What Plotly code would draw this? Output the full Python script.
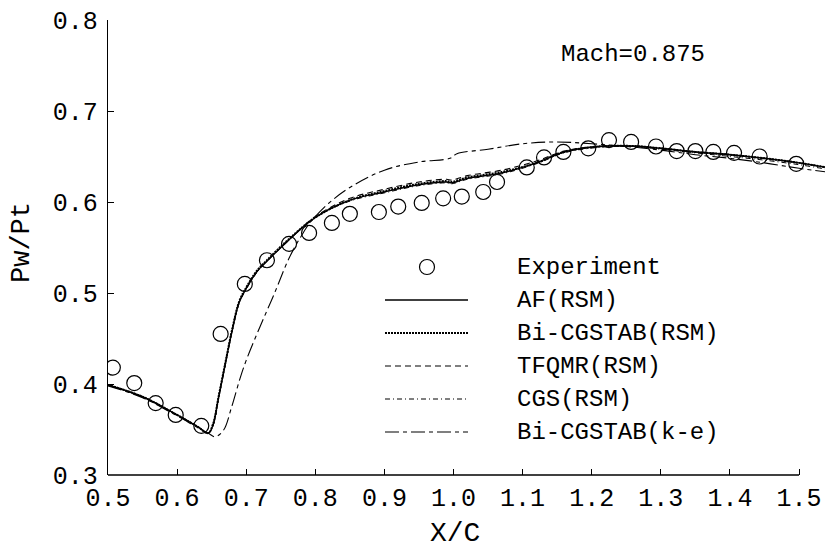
import plotly.graph_objects as go

# ---- Experimental wall pressure ----
exp_x = [0.507, 0.538, 0.569, 0.598, 0.635, 0.663, 0.698, 0.730, 0.762, 0.791,
         0.824, 0.850, 0.892, 0.920, 0.954, 0.985, 1.012, 1.043, 1.063, 1.106,
         1.131, 1.159, 1.195, 1.225, 1.257, 1.293, 1.323, 1.350, 1.376, 1.406,
         1.443, 1.496]
exp_y = [0.418, 0.401, 0.379, 0.366, 0.354, 0.455, 0.510, 0.536, 0.554, 0.566,
         0.577, 0.587, 0.589, 0.595, 0.599, 0.604, 0.606, 0.611, 0.622, 0.638,
         0.649, 0.655, 0.659, 0.668, 0.666, 0.661, 0.656, 0.656, 0.655, 0.654,
         0.650, 0.642]

# ---- RSM computations (AF, Bi-CGSTAB, TFQMR, CGS) ----
rsm_x = [0.50, 0.55, 0.60, 0.63, 0.645, 0.652, 0.660, 0.670, 0.680, 0.690,
         0.700, 0.715, 0.730, 0.760, 0.800, 0.850, 0.900, 0.950, 0.990, 0.997,
         1.020, 1.070, 1.120, 1.160, 1.210, 1.260, 1.300, 1.350, 1.400, 1.450,
         1.500, 1.540]
af_y = [0.399, 0.386, 0.366, 0.353, 0.346, 0.355, 0.385, 0.423, 0.460, 0.490,
        0.505, 0.523, 0.535, 0.557, 0.583, 0.602, 0.611, 0.619, 0.622, 0.621,
        0.626, 0.632, 0.643, 0.655, 0.661, 0.6615, 0.659, 0.655, 0.652, 0.648,
        0.643, 0.638]
bicg_rsm_y = [0.399, 0.386, 0.366, 0.353, 0.346, 0.356, 0.386, 0.424, 0.461, 0.491,
              0.506, 0.524, 0.536, 0.558, 0.583, 0.602, 0.612, 0.620, 0.623, 0.622,
              0.627, 0.633, 0.643, 0.655, 0.661, 0.6615, 0.659, 0.655, 0.652, 0.648,
              0.643, 0.638]
tfqmr_y = [0.399, 0.386, 0.366, 0.353, 0.346, 0.355, 0.385, 0.423, 0.460, 0.490,
           0.505, 0.523, 0.535, 0.557, 0.584, 0.604, 0.614, 0.622, 0.625, 0.624,
           0.629, 0.635, 0.645, 0.656, 0.661, 0.661, 0.659, 0.655, 0.652, 0.648,
           0.643, 0.638]
cgs_y = [0.399, 0.386, 0.366, 0.353, 0.346, 0.354, 0.384, 0.422, 0.459, 0.489,
         0.504, 0.522, 0.535, 0.557, 0.583, 0.601, 0.610, 0.618, 0.621, 0.620,
         0.625, 0.631, 0.642, 0.654, 0.660, 0.661, 0.658, 0.654, 0.650, 0.646,
         0.641, 0.636]

# ---- k-e computation (Bi-CGSTAB) ----
ke_x = [0.50, 0.55, 0.60, 0.63, 0.645, 0.655, 0.667, 0.679, 0.691, 0.700,
        0.720, 0.740, 0.760, 0.770, 0.780, 0.790, 0.800, 0.820, 0.850, 0.900,
        0.950, 0.995, 1.005, 1.050, 1.100, 1.150, 1.200, 1.250, 1.300, 1.350,
        1.400, 1.450, 1.500, 1.540]
ke_y = [0.398, 0.385, 0.365, 0.352, 0.346, 0.342, 0.349, 0.375, 0.406, 0.426,
        0.463, 0.498, 0.535, 0.550, 0.563, 0.575, 0.584, 0.599, 0.616, 0.635,
        0.644, 0.648, 0.653, 0.658, 0.664, 0.666, 0.664, 0.661, 0.657, 0.652,
        0.648, 0.643, 0.637, 0.633]

x_ticks = [0.5, 0.6, 0.7, 0.8, 0.9, 1.0, 1.1, 1.2, 1.3, 1.4, 1.5]
x_ticktext = ["0.5", "0.6", "0.7", "0.8", "0.9", "1.0", "1.1", "1.2", "1.3", "1.4", "1.5"]
y_ticks = [0.3, 0.4, 0.5, 0.6, 0.7, 0.8]
y_ticktext = ["0.3", "0.4", "0.5", "0.6", "0.7", "0.8"]

legend_labels = ["Experiment", "AF(RSM)", "Bi-CGSTAB(RSM)", "TFQMR(RSM)",
                 "CGS(RSM)", "Bi-CGSTAB(k-e)"]

FONT = "Liberation Mono, DejaVu Sans Mono, monospace"

# line styles for the computed curves
styles = [
    ("AF(RSM)", rsm_x, af_y, dict(color="black", width=1.4, dash="solid")),
    ("Bi-CGSTAB(RSM)", rsm_x, bicg_rsm_y, dict(color="black", width=2.0, dash="2px,1px")),
    ("TFQMR(RSM)", rsm_x, tfqmr_y, dict(color="black", width=1.1, dash="6px,4px")),
    ("CGS(RSM)", rsm_x, cgs_y, dict(color="black", width=1.0, dash="5px,3px,1px,3px")),
    ("Bi-CGSTAB(k-e)", ke_x, ke_y, dict(color="black", width=1.1, dash="14px,4px,4px,4px")),
]

fig = go.Figure()
for name, xs, ys, ln in styles:
    fig.add_trace(go.Scatter(x=xs, y=ys, mode="lines", name=name, line=ln,
                             line_shape="spline", showlegend=False))

fig.add_trace(go.Scatter(
    x=exp_x, y=exp_y, mode="markers", name="Experiment", showlegend=False,
    marker=dict(symbol="circle-open", size=15, color="black", line=dict(width=1.2)),
))

# plot-area geometry (pixels) used to place the hand-drawn legend
L, R, T, B = 108, 825, 20, 475


def px(xp):
    return (xp - L) / (R - L)


def py(yp):
    return (B - yp) / (B - T)


shapes = [
    # bottom axis line, stopping at the last tick
    dict(type="line", xref="x", yref="paper", x0=0.5, x1=1.5, y0=0, y1=0,
         line=dict(color="black", width=1.3)),
    # legend marker
    dict(type="circle", xref="paper", yref="paper", xsizemode="pixel", ysizemode="pixel",
         xanchor=px(427), yanchor=py(267), x0=-7.5, x1=7.5, y0=-7.5, y1=7.5,
         line=dict(color="black", width=1.2)),
]
row_y = [267, 300, 333, 366, 399, 432]
for (name, _, _, ln), yy in zip(styles, row_y[1:]):
    shapes.append(dict(type="line", xref="paper", yref="paper",
                       x0=px(385), x1=px(468), y0=py(yy), y1=py(yy),
                       line=dict(color="black", width=ln["width"], dash=ln["dash"])))

annotations = []
for label, yy in zip(legend_labels, row_y):
    annotations.append(dict(text=label, xref="paper", yref="paper", x=px(515), y=py(yy),
                            xanchor="left", yanchor="middle", showarrow=False,
                            font=dict(family=FONT, size=24, color="black")))

annotations += [
    dict(text="Mach=0.875", xref="paper", yref="paper", x=px(559), y=py(55),
         xanchor="left", yanchor="middle", showarrow=False,
         font=dict(family=FONT, size=24, color="black")),
    dict(text="X/C", xref="paper", yref="paper", x=px(455), y=py(533),
         xanchor="center", yanchor="middle", showarrow=False,
         font=dict(family=FONT, size=28, color="black")),
    dict(text="Pw/Pt", xref="paper", yref="paper", x=px(22), y=py(243),
         xanchor="center", yanchor="middle", showarrow=False, textangle=-90,
         font=dict(family=FONT, size=27, color="black")),
]

fig.update_layout(
    width=825, height=555,
    margin=dict(l=L, r=825 - R, t=T, b=555 - B),
    paper_bgcolor="white", plot_bgcolor="white",
    showlegend=False,
    shapes=shapes, annotations=annotations,
    xaxis=dict(range=[0.5, 1.5376], tickvals=x_ticks, ticktext=x_ticktext,
               ticks="inside", ticklen=6, tickwidth=1.2, tickcolor="black",
               showline=False, showgrid=False, zeroline=False,
               ticklabelstandoff=5,
               tickfont=dict(family=FONT, size=25, color="black")),
    yaxis=dict(range=[0.3, 0.8], tickvals=y_ticks, ticktext=y_ticktext,
               ticks="inside", ticklen=6, tickwidth=1.2, tickcolor="black",
               showline=True, linecolor="black", linewidth=1.3,
               showgrid=False, zeroline=False,
               ticklabelstandoff=4,
               tickfont=dict(family=FONT, size=25, color="black")),
)

fig.write_html("out.html")
